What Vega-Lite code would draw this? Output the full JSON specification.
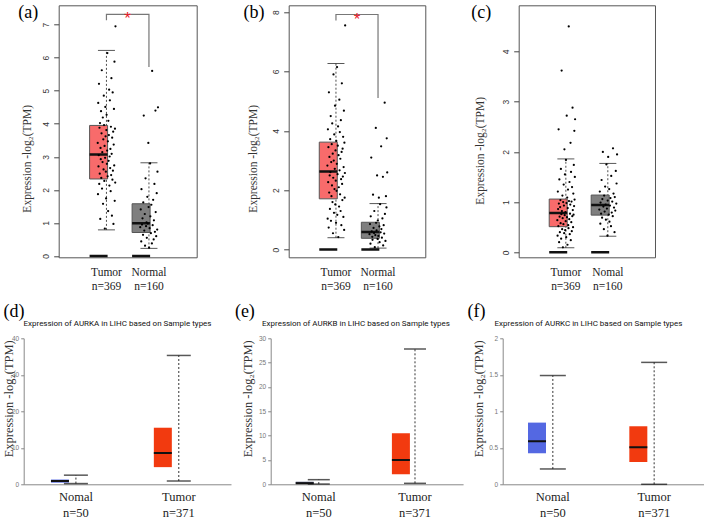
{
"$schema": "https://vega.github.io/schema/vega-lite/v6.json",
"background": "white",
"padding": {"left": 1.7, "top": 2.3, "right": 0, "bottom": 0},
"config": {"view": {"stroke": "#555", "strokeWidth": 1}, "axis": {"grid": false, "labelOverlap": false}, "title": {"fontWeight": "normal"}},
"datasets": {
"bxA": [{"g":"Tumor","lo":0.79,"q1":2.33,"md":3.07,"q3":3.95,"hi":6.22},{"g":"Normal","lo":0.23,"q1":0.71,"md":0.99,"q3":1.58,"hi":2.82}],
"bxB": [{"g":"Tumor","lo":0.40,"q1":1.71,"md":2.63,"q3":3.62,"hi":6.27},{"g":"Normal","lo":0.05,"q1":0.38,"md":0.59,"q3":0.92,"hi":1.55}],
"bxC": [{"g":"Tumor","lo":0.09,"q1":0.51,"md":0.78,"q3":1.06,"hi":1.86},{"g":"Nomal","lo":0.32,"q1":0.74,"md":0.94,"q3":1.14,"hi":1.77}],
"bxD": [{"g":"Nomal","lo":0.2,"q1":0.45,"md":0.9,"q3":1.3,"hi":2.5},{"g":"Tumor","lo":0.9,"q1":4.7,"md":8.6,"q3":15.5,"hi":35.3}],
"bxE": [{"g":"Nomal","lo":0.05,"q1":0.1,"md":0.2,"q3":0.5,"hi":0.95},{"g":"Tumor","lo":0.2,"q1":2.05,"md":5.0,"q3":10.5,"hi":27.8}],
"bxF": [{"g":"Nomal","lo":0.21,"q1":0.425,"md":0.59,"q3":0.845,"hi":1.49},{"g":"Tumor","lo":0.0,"q1":0.305,"md":0.507,"q3":0.795,"hi":1.67}],
"brA": [{"g":"Tumor","y":7.13,"o":1},{"g":"Tumor","y":7.31,"o":2},{"g":"Normal","y":7.31,"o":3},{"g":"Normal","y":5.72,"o":4}],
"brB": [{"g":"Tumor","y":7.72,"o":1},{"g":"Tumor","y":7.92,"o":2},{"g":"Normal","y":7.92,"o":3},{"g":"Normal","y":5.11,"o":4}],
"stA": [{"g":"Tumor","y":7.31,"t":"*"}],
"stB": [{"g":"Tumor","y":7.92,"t":"*"}],
"ptA": [
{"g":"Tumor","i":1,"v":3.42},{"g":"Tumor","i":2,"v":1.87},{"g":"Tumor","i":3,"v":4.63},{"g":"Tumor","i":4,"v":2.71},{"g":"Tumor","i":5,"v":3.05},{"g":"Tumor","i":6,"v":5.21},{"g":"Tumor","i":7,"v":2.18},{"g":"Tumor","i":8,"v":3.88},{"g":"Tumor","i":9,"v":2.49},{"g":"Tumor","i":10,"v":4.02},
{"g":"Tumor","i":11,"v":1.12},{"g":"Tumor","i":12,"v":3.27},{"g":"Tumor","i":13,"v":2.93},{"g":"Tumor","i":14,"v":4.38},{"g":"Tumor","i":15,"v":2.36},{"g":"Tumor","i":16,"v":3.71},{"g":"Tumor","i":17,"v":5.62},{"g":"Tumor","i":18,"v":2.04},{"g":"Tumor","i":19,"v":3.14},{"g":"Tumor","i":20,"v":2.84},
{"g":"Tumor","i":21,"v":4.19},{"g":"Tumor","i":22,"v":1.58},{"g":"Tumor","i":23,"v":3.53},{"g":"Tumor","i":24,"v":2.62},{"g":"Tumor","i":25,"v":4.85},{"g":"Tumor","i":26,"v":3.96},{"g":"Tumor","i":27,"v":2.27},{"g":"Tumor","i":28,"v":3.33},{"g":"Tumor","i":29,"v":0.83},{"g":"Tumor","i":30,"v":2.97},
{"g":"Tumor","i":31,"v":4.51},{"g":"Tumor","i":32,"v":3.62},{"g":"Tumor","i":33,"v":2.55},{"g":"Tumor","i":34,"v":1.74},{"g":"Tumor","i":35,"v":3.81},{"g":"Tumor","i":36,"v":4.27},{"g":"Tumor","i":37,"v":2.79},{"g":"Tumor","i":38,"v":3.19},{"g":"Tumor","i":39,"v":6.14},{"g":"Tumor","i":40,"v":2.41},
{"g":"Tumor","i":41,"v":3.47},{"g":"Tumor","i":42,"v":1.36},{"g":"Tumor","i":43,"v":4.09},{"g":"Tumor","i":44,"v":2.88},{"g":"Tumor","i":45,"v":3.66},{"g":"Tumor","i":46,"v":5.03},{"g":"Tumor","i":47,"v":2.13},{"g":"Tumor","i":48,"v":3.01},{"g":"Tumor","i":49,"v":4.71},{"g":"Tumor","i":50,"v":2.66},
{"g":"Tumor","i":51,"v":3.24},{"g":"Tumor","i":52,"v":1.96},{"g":"Tumor","i":53,"v":3.91},{"g":"Tumor","i":54,"v":2.45},{"g":"Tumor","i":55,"v":5.38},{"g":"Tumor","i":56,"v":3.09},{"g":"Tumor","i":57,"v":1.22},{"g":"Tumor","i":58,"v":3.58},{"g":"Tumor","i":59,"v":2.31},{"g":"Tumor","i":60,"v":4.95},
{"g":"Tumor","i":61,"v":2.58},{"g":"Tumor","i":62,"v":3.76},{"g":"Tumor","i":63,"v":0.97},{"g":"Tumor","i":64,"v":3.37},{"g":"Tumor","i":65,"v":4.45},{"g":"Tumor","i":66,"v":2.74},{"g":"Tumor","i":67,"v":5.88},{"g":"Tumor","i":68,"v":1.67},{"g":"Tumor","i":69,"v":3.85},{"g":"Tumor","i":70,"v":2.22},
{"g":"Tumor","i":71,"v":6.95},
{"g":"Normal","i":1,"v":0.87},{"g":"Normal","i":3,"v":1.41},{"g":"Normal","i":5,"v":0.44},{"g":"Normal","i":6,"v":2.02},{"g":"Normal","i":8,"v":0.95},{"g":"Normal","i":10,"v":1.14},{"g":"Normal","i":12,"v":0.64},{"g":"Normal","i":13,"v":1.62},{"g":"Normal","i":15,"v":4.25},{"g":"Normal","i":17,"v":0.77},
{"g":"Normal","i":19,"v":1.27},{"g":"Normal","i":20,"v":0.31},{"g":"Normal","i":22,"v":2.35},{"g":"Normal","i":24,"v":0.9},{"g":"Normal","i":26,"v":1.02},{"g":"Normal","i":27,"v":0.55},{"g":"Normal","i":29,"v":1.79},{"g":"Normal","i":31,"v":0.98},{"g":"Normal","i":33,"v":3.42},{"g":"Normal","i":34,"v":1.48},
{"g":"Normal","i":36,"v":0.25},{"g":"Normal","i":38,"v":0.84},{"g":"Normal","i":40,"v":2.8},{"g":"Normal","i":41,"v":1.2},{"g":"Normal","i":43,"v":0.69},{"g":"Normal","i":45,"v":1.55},{"g":"Normal","i":47,"v":0.38},{"g":"Normal","i":48,"v":5.6},{"g":"Normal","i":50,"v":0.93},{"g":"Normal","i":52,"v":1.7},
{"g":"Normal","i":54,"v":0.5},{"g":"Normal","i":55,"v":1.08},{"g":"Normal","i":57,"v":2.18},{"g":"Normal","i":59,"v":0.73},{"g":"Normal","i":61,"v":4.4},{"g":"Normal","i":62,"v":1.33},{"g":"Normal","i":64,"v":0.6},{"g":"Normal","i":66,"v":1.9},{"g":"Normal","i":68,"v":0.8},{"g":"Normal","i":69,"v":2.55},{"g":"Normal","i":71,"v":4.5}
],
"ptB": [
{"g":"Tumor","i":1,"v":2.83},{"g":"Tumor","i":2,"v":1.04},{"g":"Tumor","i":3,"v":4.05},{"g":"Tumor","i":4,"v":2.27},{"g":"Tumor","i":5,"v":3.45},{"g":"Tumor","i":6,"v":0.74},{"g":"Tumor","i":7,"v":5.3},{"g":"Tumor","i":8,"v":1.92},{"g":"Tumor","i":9,"v":3.12},{"g":"Tumor","i":10,"v":2.5},
{"g":"Tumor","i":11,"v":1.37},{"g":"Tumor","i":12,"v":3.72},{"g":"Tumor","i":13,"v":2.61},{"g":"Tumor","i":14,"v":4.5},{"g":"Tumor","i":15,"v":0.97},{"g":"Tumor","i":16,"v":2.95},{"g":"Tumor","i":17,"v":1.8},{"g":"Tumor","i":18,"v":3.55},{"g":"Tumor","i":19,"v":2.16},{"g":"Tumor","i":20,"v":4.25},
{"g":"Tumor","i":21,"v":1.6},{"g":"Tumor","i":22,"v":3.23},{"g":"Tumor","i":23,"v":0.55},{"g":"Tumor","i":24,"v":2.42},{"g":"Tumor","i":25,"v":5.9},{"g":"Tumor","i":26,"v":3.0},{"g":"Tumor","i":27,"v":1.24},{"g":"Tumor","i":28,"v":3.88},{"g":"Tumor","i":29,"v":2.04},{"g":"Tumor","i":30,"v":2.72},
{"g":"Tumor","i":31,"v":4.85},{"g":"Tumor","i":32,"v":1.52},{"g":"Tumor","i":33,"v":3.34},{"g":"Tumor","i":34,"v":2.32},{"g":"Tumor","i":35,"v":0.9},{"g":"Tumor","i":36,"v":3.66},{"g":"Tumor","i":37,"v":1.98},{"g":"Tumor","i":38,"v":2.89},{"g":"Tumor","i":39,"v":6.15},{"g":"Tumor","i":40,"v":1.17},
{"g":"Tumor","i":41,"v":2.54},{"g":"Tumor","i":42,"v":3.5},{"g":"Tumor","i":43,"v":4.15},{"g":"Tumor","i":44,"v":0.42},{"g":"Tumor","i":45,"v":3.18},{"g":"Tumor","i":46,"v":2.1},{"g":"Tumor","i":47,"v":1.45},{"g":"Tumor","i":48,"v":5.05},{"g":"Tumor","i":49,"v":2.67},{"g":"Tumor","i":50,"v":3.96},
{"g":"Tumor","i":51,"v":1.86},{"g":"Tumor","i":52,"v":3.06},{"g":"Tumor","i":53,"v":1.3},{"g":"Tumor","i":54,"v":4.36},{"g":"Tumor","i":55,"v":2.37},{"g":"Tumor","i":56,"v":0.82},{"g":"Tumor","i":57,"v":3.29},{"g":"Tumor","i":58,"v":5.6},{"g":"Tumor","i":59,"v":2.21},{"g":"Tumor","i":60,"v":1.67},
{"g":"Tumor","i":61,"v":3.4},{"g":"Tumor","i":62,"v":2.46},{"g":"Tumor","i":63,"v":3.8},{"g":"Tumor","i":64,"v":1.1},{"g":"Tumor","i":65,"v":2.78},{"g":"Tumor","i":66,"v":4.68},{"g":"Tumor","i":67,"v":0.66},{"g":"Tumor","i":68,"v":3.6},{"g":"Tumor","i":69,"v":1.75},{"g":"Tumor","i":70,"v":2.58},
{"g":"Tumor","i":71,"v":7.55},
{"g":"Normal","i":1,"v":0.52},{"g":"Normal","i":3,"v":0.86},{"g":"Normal","i":5,"v":0.2},{"g":"Normal","i":6,"v":1.12},{"g":"Normal","i":8,"v":3.1},{"g":"Normal","i":10,"v":0.61},{"g":"Normal","i":12,"v":0.43},{"g":"Normal","i":13,"v":0.33},{"g":"Normal","i":15,"v":1.85},{"g":"Normal","i":17,"v":0.73},
{"g":"Normal","i":19,"v":0.56},{"g":"Normal","i":20,"v":1.3},{"g":"Normal","i":22,"v":0.08},{"g":"Normal","i":24,"v":0.49},{"g":"Normal","i":26,"v":4.1},{"g":"Normal","i":27,"v":0.9},{"g":"Normal","i":29,"v":0.65},{"g":"Normal","i":31,"v":2.5},{"g":"Normal","i":33,"v":0.36},{"g":"Normal","i":34,"v":0.98},
{"g":"Normal","i":36,"v":0.46},{"g":"Normal","i":38,"v":1.75},{"g":"Normal","i":40,"v":0.78},{"g":"Normal","i":41,"v":0.25},{"g":"Normal","i":43,"v":1.53},{"g":"Normal","i":45,"v":0.58},{"g":"Normal","i":47,"v":3.48},{"g":"Normal","i":48,"v":0.69},{"g":"Normal","i":50,"v":0.4},{"g":"Normal","i":52,"v":1.05},
{"g":"Normal","i":54,"v":2.45},{"g":"Normal","i":55,"v":0.14},{"g":"Normal","i":57,"v":0.82},{"g":"Normal","i":59,"v":0.54},{"g":"Normal","i":61,"v":4.95},{"g":"Normal","i":62,"v":1.2},{"g":"Normal","i":64,"v":0.29},{"g":"Normal","i":66,"v":1.8},{"g":"Normal","i":68,"v":1.42},{"g":"Normal","i":69,"v":3.75},{"g":"Normal","i":71,"v":2.6}
],
"ptC": [
{"g":"Tumor","i":1,"v":0.64},{"g":"Tumor","i":2,"v":0.33},{"g":"Tumor","i":3,"v":1.21},{"g":"Tumor","i":4,"v":0.86},{"g":"Tumor","i":5,"v":0.52},{"g":"Tumor","i":6,"v":2.45},{"g":"Tumor","i":7,"v":0.97},{"g":"Tumor","i":8,"v":0.2},{"g":"Tumor","i":9,"v":1.45},{"g":"Tumor","i":10,"v":0.71},
{"g":"Tumor","i":11,"v":0.4},{"g":"Tumor","i":12,"v":0.9},{"g":"Tumor","i":13,"v":1.04},{"g":"Tumor","i":14,"v":0.58},{"g":"Tumor","i":15,"v":1.66},{"g":"Tumor","i":16,"v":0.27},{"g":"Tumor","i":17,"v":0.76},{"g":"Tumor","i":18,"v":3.62},{"g":"Tumor","i":19,"v":0.82},{"g":"Tumor","i":20,"v":0.46},
{"g":"Tumor","i":21,"v":1.13},{"g":"Tumor","i":22,"v":0.68},{"g":"Tumor","i":23,"v":0.1},{"g":"Tumor","i":24,"v":1.0},{"g":"Tumor","i":25,"v":0.56},{"g":"Tumor","i":26,"v":1.35},{"g":"Tumor","i":27,"v":0.93},{"g":"Tumor","i":28,"v":0.38},{"g":"Tumor","i":29,"v":2.05},{"g":"Tumor","i":30,"v":0.74},
{"g":"Tumor","i":31,"v":1.55},{"g":"Tumor","i":32,"v":0.44},{"g":"Tumor","i":33,"v":0.8},{"g":"Tumor","i":34,"v":0.62},{"g":"Tumor","i":35,"v":1.84},{"g":"Tumor","i":36,"v":0.3},{"g":"Tumor","i":37,"v":0.98},{"g":"Tumor","i":38,"v":2.72},{"g":"Tumor","i":39,"v":0.7},{"g":"Tumor","i":40,"v":1.09},
{"g":"Tumor","i":41,"v":0.15},{"g":"Tumor","i":42,"v":0.88},{"g":"Tumor","i":43,"v":1.25},{"g":"Tumor","i":44,"v":0.54},{"g":"Tumor","i":45,"v":0.48},{"g":"Tumor","i":46,"v":4.5},{"g":"Tumor","i":47,"v":1.02},{"g":"Tumor","i":48,"v":0.66},{"g":"Tumor","i":49,"v":1.4},{"g":"Tumor","i":50,"v":0.36},
{"g":"Tumor","i":51,"v":0.77},{"g":"Tumor","i":52,"v":0.95},{"g":"Tumor","i":53,"v":2.18},{"g":"Tumor","i":54,"v":0.24},{"g":"Tumor","i":55,"v":1.6},{"g":"Tumor","i":56,"v":0.6},{"g":"Tumor","i":57,"v":1.01},{"g":"Tumor","i":58,"v":0.42},{"g":"Tumor","i":59,"v":1.3},{"g":"Tumor","i":60,"v":0.72},
{"g":"Tumor","i":61,"v":2.88},{"g":"Tumor","i":62,"v":0.84},{"g":"Tumor","i":63,"v":0.5},{"g":"Tumor","i":64,"v":1.17},{"g":"Tumor","i":65,"v":0.75},{"g":"Tumor","i":66,"v":1.74},{"g":"Tumor","i":67,"v":0.92},{"g":"Tumor","i":68,"v":2.42},{"g":"Tumor","i":69,"v":1.05},{"g":"Tumor","i":70,"v":1.5},
{"g":"Tumor","i":71,"v":2.65},
{"g":"Nomal","i":1,"v":0.85},{"g":"Nomal","i":3,"v":1.21},{"g":"Nomal","i":5,"v":0.57},{"g":"Nomal","i":6,"v":0.99},{"g":"Nomal","i":8,"v":0.77},{"g":"Nomal","i":10,"v":1.44},{"g":"Nomal","i":12,"v":0.69},{"g":"Nomal","i":13,"v":1.06},{"g":"Nomal","i":15,"v":2.0},{"g":"Nomal","i":17,"v":0.91},
{"g":"Nomal","i":19,"v":0.46},{"g":"Nomal","i":20,"v":1.13},{"g":"Nomal","i":22,"v":0.81},{"g":"Nomal","i":24,"v":1.31},{"g":"Nomal","i":26,"v":0.95},{"g":"Nomal","i":27,"v":0.65},{"g":"Nomal","i":29,"v":1.75},{"g":"Nomal","i":31,"v":0.87},{"g":"Nomal","i":33,"v":0.33},{"g":"Nomal","i":34,"v":1.03},
{"g":"Nomal","i":36,"v":1.9},{"g":"Nomal","i":38,"v":0.75},{"g":"Nomal","i":40,"v":1.26},{"g":"Nomal","i":41,"v":0.61},{"g":"Nomal","i":43,"v":0.93},{"g":"Nomal","i":45,"v":1.08},{"g":"Nomal","i":47,"v":0.52},{"g":"Nomal","i":48,"v":1.52},{"g":"Nomal","i":50,"v":0.79},{"g":"Nomal","i":52,"v":1.01},
{"g":"Nomal","i":54,"v":0.72},{"g":"Nomal","i":55,"v":2.07},{"g":"Nomal","i":57,"v":1.17},{"g":"Nomal","i":59,"v":0.89},{"g":"Nomal","i":61,"v":0.4},{"g":"Nomal","i":62,"v":1.1},{"g":"Nomal","i":64,"v":0.83},{"g":"Nomal","i":66,"v":1.62},{"g":"Nomal","i":68,"v":0.97},{"g":"Nomal","i":69,"v":1.37},{"g":"Nomal","i":71,"v":1.95}
]
},
"spacing": 9,
"resolve": {"scale": {"color": "independent"}},
"vconcat": [
{"hconcat": [
 {"width": 34.3, "height": 252, "data": {"values": []}, "mark": "point", "view": {"stroke": null}},
 {"width": 138, "height": 252,
  "resolve": {"axis": {"x": "independent", "y": "independent"}},
  "layer": [
   {"data": {"name": "bxA"}, "mark": {"type": "rule", "color": "#222", "strokeWidth": 0.8, "strokeDash": [2, 2]},
    "encoding": {
     "x": {"field": "g", "type": "nominal", "scale": {"type": "band", "domain": ["Tumor", "Normal"], "paddingInner": 0.207, "paddingOuter": 0.727},
       "axis": {"title": null, "domain": false, "ticks": false, "labelAngle": 0, "labelFont": "Liberation Serif", "labelFontSize": 11.5, "labelColor": "#222", "labelPadding": 9, "labelLineHeight": 14.3, "labelExpr": "datum.value == 'Tumor' ? ['Tumor', 'n=369'] : ['Normal', 'n=160']"}},
     "y": {"field": "lo", "type": "quantitative", "scale": {"domain": [-0.04, 7.585], "nice": false, "zero": false},
       "axis": {"title": "Expression -log₂(TPM)", "values": [0, 1, 2, 3, 4, 5, 6, 7], "format": "~r", "labelOverlap": false, "domain": false, "tickSize": 5, "tickColor": "#444", "labelAngle": -90, "labelAlign": "center", "labelBaseline": "bottom", "labelFont": "Liberation Sans", "labelFontSize": 8.5, "labelColor": "#333", "labelPadding": 3, "titleFont": "Liberation Serif", "titleFontSize": 11.5, "titleFontWeight": "normal", "titleColor": "#333", "titleX": -26, "titleY": 153}},
     "y2": {"field": "hi"}}},
   {"data": {"name": "bxA"}, "mark": {"type": "bar", "stroke": "#555", "strokeWidth": 1},
    "encoding": {"x": {"field": "g", "type": "nominal", "axis": {"orient": "top", "title": "(a)", "labels": false, "ticks": false, "domain": false, "titleFont": "Liberation Serif", "titleFontSize": 18, "titleFontWeight": "normal", "titleColor": "#000", "titleX": -41, "titleY": 12, "titleAlign": "left", "titleBaseline": "alphabetic"}},
     "y": {"field": "q1", "type": "quantitative", "axis": null}, "y2": {"field": "q3"},
     "color": {"field": "g", "type": "nominal", "scale": {"domain": ["Tumor", "Normal"], "range": ["#F86B6B", "#7F7F7F"]}, "legend": null}}},
   {"data": {"name": "bxA"}, "mark": {"type": "bar", "fill": "transparent", "stroke": "#111", "strokeWidth": 2.5},
    "encoding": {"x": {"field": "g", "type": "nominal", "axis": null}, "y": {"field": "md", "type": "quantitative", "axis": null}, "y2": {"field": "md"}}},
   {"data": {"name": "bxA"}, "mark": {"type": "tick", "color": "#111", "thickness": 1, "size": 17},
    "encoding": {"x": {"field": "g", "type": "nominal", "axis": null}, "y": {"field": "hi", "type": "quantitative", "axis": null}}},
   {"data": {"name": "bxA"}, "mark": {"type": "tick", "color": "#111", "thickness": 1, "size": 17},
    "encoding": {"x": {"field": "g", "type": "nominal", "axis": null}, "y": {"field": "lo", "type": "quantitative", "axis": null}}},
   {"data": {"name": "bxA"}, "mark": {"type": "bar", "fill": "transparent", "stroke": "#111", "strokeWidth": 2.5},
    "encoding": {"x": {"field": "g", "type": "nominal", "axis": null}, "y": {"datum": 0, "axis": null}, "y2": {"datum": 0}}},
   {"data": {"name": "ptA"}, "mark": {"type": "circle", "color": "#000", "size": 5, "opacity": 1},
    "encoding": {"x": {"field": "g", "type": "nominal", "axis": null}, "xOffset": {"field": "i", "type": "ordinal", "scale": {"type": "point", "range": [8, 26]}}, "y": {"field": "v", "type": "quantitative", "axis": null}}},
   {"data": {"name": "brA"}, "mark": {"type": "line", "color": "#777", "strokeWidth": 1.2},
    "encoding": {"x": {"field": "g", "type": "nominal", "axis": null}, "y": {"field": "y", "type": "quantitative", "axis": null}, "order": {"field": "o"}}},
   {"data": {"name": "stA"}, "mark": {"type": "text", "color": "#E8202A", "fontSize": 17, "font": "Liberation Sans", "baseline": "middle", "dy": 5},
    "encoding": {"x": {"field": "g", "type": "nominal", "bandPosition": 1.13, "axis": null}, "y": {"field": "y", "type": "quantitative", "axis": null}, "text": {"field": "t"}}}
  ]},
 {"width": 91.7, "height": 252, "data": {"values": []}, "mark": "point", "view": {"stroke": null}},
 {"width": 136.6, "height": 252,
  "resolve": {"axis": {"x": "independent", "y": "independent"}},
  "layer": [
   {"data": {"name": "bxB"}, "mark": {"type": "rule", "color": "#222", "strokeWidth": 0.8, "strokeDash": [2, 2]},
    "encoding": {
     "x": {"field": "g", "type": "nominal", "scale": {"type": "band", "domain": ["Tumor", "Normal"], "paddingInner": 0.207, "paddingOuter": 0.727},
       "axis": {"title": null, "domain": false, "ticks": false, "labelAngle": 0, "labelFont": "Liberation Serif", "labelFontSize": 11.5, "labelColor": "#222", "labelPadding": 9, "labelLineHeight": 14.3, "labelExpr": "datum.value == 'Tumor' ? ['Tumor', 'n=369'] : ['Normal', 'n=160']"}},
     "y": {"field": "lo", "type": "quantitative", "scale": {"domain": [-0.26, 8.23], "nice": false, "zero": false},
       "axis": {"title": "Expression -log₂(TPM)", "values": [0, 2, 4, 6, 8], "format": "~r", "labelOverlap": false, "domain": false, "tickSize": 5, "tickColor": "#444", "labelAngle": -90, "labelAlign": "center", "labelBaseline": "bottom", "labelFont": "Liberation Sans", "labelFontSize": 8.5, "labelColor": "#333", "labelPadding": 3, "titleFont": "Liberation Serif", "titleFontSize": 11.5, "titleFontWeight": "normal", "titleColor": "#333", "titleX": -30, "titleY": 153}},
     "y2": {"field": "hi"}}},
   {"data": {"name": "bxB"}, "mark": {"type": "bar", "stroke": "#555", "strokeWidth": 1},
    "encoding": {"x": {"field": "g", "type": "nominal", "axis": {"orient": "top", "title": "(b)", "labels": false, "ticks": false, "domain": false, "titleFont": "Liberation Serif", "titleFontSize": 18, "titleFontWeight": "normal", "titleColor": "#000", "titleX": -45.7, "titleY": 12, "titleAlign": "left", "titleBaseline": "alphabetic"}},
     "y": {"field": "q1", "type": "quantitative", "axis": null}, "y2": {"field": "q3"},
     "color": {"field": "g", "type": "nominal", "scale": {"domain": ["Tumor", "Normal"], "range": ["#F86B6B", "#7F7F7F"]}, "legend": null}}},
   {"data": {"name": "bxB"}, "mark": {"type": "bar", "fill": "transparent", "stroke": "#111", "strokeWidth": 2.5},
    "encoding": {"x": {"field": "g", "type": "nominal", "axis": null}, "y": {"field": "md", "type": "quantitative", "axis": null}, "y2": {"field": "md"}}},
   {"data": {"name": "bxB"}, "mark": {"type": "tick", "color": "#111", "thickness": 1, "size": 17},
    "encoding": {"x": {"field": "g", "type": "nominal", "axis": null}, "y": {"field": "hi", "type": "quantitative", "axis": null}}},
   {"data": {"name": "bxB"}, "mark": {"type": "tick", "color": "#111", "thickness": 1, "size": 17},
    "encoding": {"x": {"field": "g", "type": "nominal", "axis": null}, "y": {"field": "lo", "type": "quantitative", "axis": null}}},
   {"data": {"name": "bxB"}, "mark": {"type": "bar", "fill": "transparent", "stroke": "#111", "strokeWidth": 2.5},
    "encoding": {"x": {"field": "g", "type": "nominal", "axis": null}, "y": {"datum": 0, "axis": null}, "y2": {"datum": 0}}},
   {"data": {"name": "ptB"}, "mark": {"type": "circle", "color": "#000", "size": 5, "opacity": 1},
    "encoding": {"x": {"field": "g", "type": "nominal", "axis": null}, "xOffset": {"field": "i", "type": "ordinal", "scale": {"type": "point", "range": [8, 26]}}, "y": {"field": "v", "type": "quantitative", "axis": null}}},
   {"data": {"name": "brB"}, "mark": {"type": "line", "color": "#777", "strokeWidth": 1.2},
    "encoding": {"x": {"field": "g", "type": "nominal", "axis": null}, "y": {"field": "y", "type": "quantitative", "axis": null}, "order": {"field": "o"}}},
   {"data": {"name": "stB"}, "mark": {"type": "text", "color": "#E8202A", "fontSize": 17, "font": "Liberation Sans", "baseline": "middle", "dy": 5},
    "encoding": {"x": {"field": "g", "type": "nominal", "bandPosition": 1.13, "axis": null}, "y": {"field": "y", "type": "quantitative", "axis": null}, "text": {"field": "t"}}}
  ]},
 {"width": 92.7, "height": 252, "data": {"values": []}, "mark": "point", "view": {"stroke": null}},
 {"width": 136.3, "height": 252,
  "resolve": {"axis": {"x": "independent", "y": "independent"}},
  "layer": [
   {"data": {"name": "bxC"}, "mark": {"type": "rule", "color": "#222", "strokeWidth": 0.8, "strokeDash": [2, 2]},
    "encoding": {
     "x": {"field": "g", "type": "nominal", "scale": {"type": "band", "domain": ["Tumor", "Nomal"], "paddingInner": 0.207, "paddingOuter": 0.727},
       "axis": {"title": null, "domain": false, "ticks": false, "labelAngle": 0, "labelFont": "Liberation Serif", "labelFontSize": 11.5, "labelColor": "#222", "labelPadding": 9, "labelLineHeight": 14.3, "labelExpr": "datum.value == 'Tumor' ? ['Tumor', 'n=369'] : ['Nomal', 'n=160']"}},
     "y": {"field": "lo", "type": "quantitative", "scale": {"domain": [-0.1, 4.92], "nice": false, "zero": false},
       "axis": {"title": "Expression -log₂(TPM)", "values": [0, 1, 2, 3, 4], "format": "~r", "labelOverlap": false, "domain": false, "tickSize": 5, "tickColor": "#444", "labelAngle": -90, "labelAlign": "center", "labelBaseline": "bottom", "labelFont": "Liberation Sans", "labelFontSize": 8.5, "labelColor": "#333", "labelPadding": 3, "titleFont": "Liberation Serif", "titleFontSize": 11.5, "titleFontWeight": "normal", "titleColor": "#333", "titleX": -33, "titleY": 145}},
     "y2": {"field": "hi"}}},
   {"data": {"name": "bxC"}, "mark": {"type": "bar", "stroke": "#555", "strokeWidth": 1},
    "encoding": {"x": {"field": "g", "type": "nominal", "axis": {"orient": "top", "title": "(c)", "labels": false, "ticks": false, "domain": false, "titleFont": "Liberation Serif", "titleFontSize": 18, "titleFontWeight": "normal", "titleColor": "#000", "titleX": -48, "titleY": 12, "titleAlign": "left", "titleBaseline": "alphabetic"}},
     "y": {"field": "q1", "type": "quantitative", "axis": null}, "y2": {"field": "q3"},
     "color": {"field": "g", "type": "nominal", "scale": {"domain": ["Tumor", "Nomal"], "range": ["#F86B6B", "#7F7F7F"]}, "legend": null}}},
   {"data": {"name": "bxC"}, "mark": {"type": "bar", "fill": "transparent", "stroke": "#111", "strokeWidth": 2.5},
    "encoding": {"x": {"field": "g", "type": "nominal", "axis": null}, "y": {"field": "md", "type": "quantitative", "axis": null}, "y2": {"field": "md"}}},
   {"data": {"name": "bxC"}, "mark": {"type": "tick", "color": "#111", "thickness": 1, "size": 17},
    "encoding": {"x": {"field": "g", "type": "nominal", "axis": null}, "y": {"field": "hi", "type": "quantitative", "axis": null}}},
   {"data": {"name": "bxC"}, "mark": {"type": "tick", "color": "#111", "thickness": 1, "size": 17},
    "encoding": {"x": {"field": "g", "type": "nominal", "axis": null}, "y": {"field": "lo", "type": "quantitative", "axis": null}}},
   {"data": {"name": "bxC"}, "mark": {"type": "bar", "fill": "transparent", "stroke": "#111", "strokeWidth": 2.5},
    "encoding": {"x": {"field": "g", "type": "nominal", "axis": null}, "y": {"datum": 0, "axis": null}, "y2": {"datum": 0}}},
   {"data": {"name": "ptC"}, "mark": {"type": "circle", "color": "#000", "size": 5, "opacity": 1},
    "encoding": {"x": {"field": "g", "type": "nominal", "axis": null}, "xOffset": {"field": "i", "type": "ordinal", "scale": {"type": "point", "range": [8, 26]}}, "y": {"field": "v", "type": "quantitative", "axis": null}}}
  ]}
 ], "spacing": 0, "bounds": "flush", "resolve": {"scale": {"color": "independent"}}},
{"hconcat": [
 {"width": 207.3, "height": 146, "view": {"stroke": null}, "data": {"name": "bxD"},
  "resolve": {"axis": {"x": "independent", "y": "independent"}},
  "layer": [
   {"mark": {"type": "rule", "color": "#333", "strokeWidth": 1, "strokeDash": [2, 2]},
    "encoding": {
     "x": {"field": "g", "type": "nominal", "scale": {"type": "band", "domain": ["Nomal", "Tumor"], "paddingInner": 0.515, "paddingOuter": 0.265},
       "axis": {"title": null, "domain": true, "domainColor": "#888", "ticks": false, "labelAngle": 0, "labelFont": "Liberation Serif", "labelFontSize": 12.5, "labelColor": "#222", "labelPadding": 6, "labelLineHeight": 16.5, "labelExpr": "datum.value == 'Tumor' ? ['Tumor', 'n=371'] : ['Nomal', 'n=50']"}},
     "y": {"field": "lo", "type": "quantitative", "scale": {"domain": [0, 40], "nice": false},
       "axis": {"title": "Expression -log₂(TPM)", "values": [0, 10, 20, 30, 40], "format": "~r", "domain": true, "domainColor": "#888", "tickColor": "#888", "tickSize": 3, "labelFont": "Liberation Sans", "labelFontSize": 6.5, "labelColor": "#777", "labelPadding": 2, "titleFont": "Liberation Serif", "titleFontSize": 12.5, "titleFontWeight": "normal", "titleColor": "#333", "titleX": -8, "titleY": 60}},
     "y2": {"field": "hi"}}},
   {"mark": {"type": "bar"},
    "encoding": {"x": {"field": "g", "type": "nominal", "axis": {"orient": "top", "title": "Expression of AURKA in LIHC based on Sample types", "labels": false, "ticks": false, "domain": false, "titleFont": "Roboto", "titleFontSize": 8, "titleFontWeight": "normal", "titleColor": "#111", "titleX": 93.3, "titleY": -12.5, "titleAlign": "center", "titleBaseline": "alphabetic"}},
     "y": {"field": "q1", "type": "quantitative", "axis": {"orient": "right", "title": "(d)", "labels": false, "ticks": false, "domain": false, "titleFont": "Liberation Serif", "titleFontSize": 18, "titleFontWeight": "normal", "titleColor": "#000", "titleAngle": 0, "titleX": -228, "titleY": -22, "titleAlign": "left", "titleBaseline": "alphabetic"}},
     "y2": {"field": "q3"},
     "color": {"field": "g", "type": "nominal", "scale": {"domain": ["Nomal", "Tumor"], "range": ["#5468E2", "#F23A0F"]}, "legend": null}}},
   {"mark": {"type": "bar", "fill": "transparent", "stroke": "#111", "strokeWidth": 2},
    "encoding": {"x": {"field": "g", "type": "nominal", "axis": null}, "y": {"field": "md", "type": "quantitative", "axis": null}, "y2": {"field": "md"}}},
   {"mark": {"type": "tick", "color": "#111", "thickness": 1.5, "size": 24},
    "encoding": {"x": {"field": "g", "type": "nominal", "axis": null}, "y": {"field": "hi", "type": "quantitative", "axis": null}}},
   {"mark": {"type": "tick", "color": "#111", "thickness": 1.5, "size": 24},
    "encoding": {"x": {"field": "g", "type": "nominal", "axis": null}, "y": {"field": "lo", "type": "quantitative", "axis": null}}}
  ]},
 {"width": 39, "height": 10, "data": {"values": []}, "mark": "point", "view": {"stroke": null}},
 {"width": 192.4, "height": 146, "view": {"stroke": null}, "data": {"name": "bxE"},
  "resolve": {"axis": {"x": "independent", "y": "independent"}},
  "layer": [
   {"mark": {"type": "rule", "color": "#333", "strokeWidth": 1, "strokeDash": [2, 2]},
    "encoding": {
     "x": {"field": "g", "type": "nominal", "scale": {"type": "band", "domain": ["Nomal", "Tumor"], "paddingInner": 0.52, "paddingOuter": 0.26},
       "axis": {"title": null, "domain": true, "domainColor": "#888", "ticks": false, "labelAngle": 0, "labelFont": "Liberation Serif", "labelFontSize": 12.5, "labelColor": "#222", "labelPadding": 6, "labelLineHeight": 16.5, "labelExpr": "datum.value == 'Tumor' ? ['Tumor', 'n=371'] : ['Nomal', 'n=50']"}},
     "y": {"field": "lo", "type": "quantitative", "scale": {"domain": [0, 30], "nice": false},
       "axis": {"title": "Expression -log₂(TPM)", "values": [0, 5, 10, 15, 20, 25, 30], "format": "~r", "domain": true, "domainColor": "#888", "tickColor": "#888", "tickSize": 3, "labelFont": "Liberation Sans", "labelFontSize": 6.5, "labelColor": "#777", "labelPadding": 2, "titleFont": "Liberation Serif", "titleFontSize": 12.5, "titleFontWeight": "normal", "titleColor": "#333", "titleX": -16.3, "titleY": 60}},
     "y2": {"field": "hi"}}},
   {"mark": {"type": "bar"},
    "encoding": {"x": {"field": "g", "type": "nominal", "axis": {"orient": "top", "title": "Expression of AURKB in LIHC based on Sample types", "labels": false, "ticks": false, "domain": false, "titleFont": "Roboto", "titleFontSize": 8, "titleFontWeight": "normal", "titleColor": "#111", "titleX": 84.7, "titleY": -12.5, "titleAlign": "center", "titleBaseline": "alphabetic"}},
     "y": {"field": "q1", "type": "quantitative", "axis": {"orient": "right", "title": "(e)", "labels": false, "ticks": false, "domain": false, "titleFont": "Liberation Serif", "titleFontSize": 18, "titleFontWeight": "normal", "titleColor": "#000", "titleAngle": 0, "titleX": -228.7, "titleY": -22, "titleAlign": "left", "titleBaseline": "alphabetic"}},
     "y2": {"field": "q3"},
     "color": {"field": "g", "type": "nominal", "scale": {"domain": ["Nomal", "Tumor"], "range": ["#4a4f70", "#F23A0F"]}, "legend": null}}},
   {"mark": {"type": "bar", "fill": "transparent", "stroke": "#111", "strokeWidth": 2},
    "encoding": {"x": {"field": "g", "type": "nominal", "axis": null}, "y": {"field": "md", "type": "quantitative", "axis": null}, "y2": {"field": "md"}}},
   {"mark": {"type": "tick", "color": "#111", "thickness": 1.5, "size": 22},
    "encoding": {"x": {"field": "g", "type": "nominal", "axis": null}, "y": {"field": "hi", "type": "quantitative", "axis": null}}},
   {"mark": {"type": "tick", "color": "#111", "thickness": 1.5, "size": 22},
    "encoding": {"x": {"field": "g", "type": "nominal", "axis": null}, "y": {"field": "lo", "type": "quantitative", "axis": null}}}
  ]},
 {"width": 39, "height": 10, "data": {"values": []}, "mark": "point", "view": {"stroke": null}},
 {"width": 201.6, "height": 146, "view": {"stroke": null}, "data": {"name": "bxF"},
  "resolve": {"axis": {"x": "independent", "y": "independent"}},
  "layer": [
   {"mark": {"type": "rule", "color": "#333", "strokeWidth": 1, "strokeDash": [2, 2]},
    "encoding": {
     "x": {"field": "g", "type": "nominal", "scale": {"type": "band", "domain": ["Nomal", "Tumor"], "paddingInner": 0.51, "paddingOuter": 0.25},
       "axis": {"title": null, "domain": true, "domainColor": "#888", "ticks": false, "labelAngle": 0, "labelFont": "Liberation Serif", "labelFontSize": 12.5, "labelColor": "#222", "labelPadding": 6, "labelLineHeight": 16.5, "labelExpr": "datum.value == 'Tumor' ? ['Tumor', 'n=371'] : ['Nomal', 'n=50']"}},
     "y": {"field": "lo", "type": "quantitative", "scale": {"domain": [0, 2], "nice": false},
       "axis": {"title": "Expression -log₂(TPM)", "values": [0, 0.5, 1, 1.5, 2], "format": "~r", "domain": true, "domainColor": "#888", "tickColor": "#888", "tickSize": 3, "labelFont": "Liberation Sans", "labelFontSize": 6.5, "labelColor": "#777", "labelPadding": 2, "titleFont": "Liberation Serif", "titleFontSize": 12.5, "titleFontWeight": "normal", "titleColor": "#333", "titleX": -16.7, "titleY": 60}},
     "y2": {"field": "hi"}}},
   {"mark": {"type": "bar"},
    "encoding": {"x": {"field": "g", "type": "nominal", "axis": {"orient": "top", "title": "Expression of AURKC in LIHC based on Sample types", "labels": false, "ticks": false, "domain": false, "titleFont": "Roboto", "titleFontSize": 8, "titleFontWeight": "normal", "titleColor": "#111", "titleX": 85.3, "titleY": -12.5, "titleAlign": "center", "titleBaseline": "alphabetic"}},
     "y": {"field": "q1", "type": "quantitative", "axis": {"orient": "right", "title": "(f)", "labels": false, "ticks": false, "domain": false, "titleFont": "Liberation Serif", "titleFontSize": 18, "titleFontWeight": "normal", "titleColor": "#000", "titleAngle": 0, "titleX": -237.3, "titleY": -22, "titleAlign": "left", "titleBaseline": "alphabetic"}},
     "y2": {"field": "q3"},
     "color": {"field": "g", "type": "nominal", "scale": {"domain": ["Nomal", "Tumor"], "range": ["#5468E2", "#F23A0F"]}, "legend": null}}},
   {"mark": {"type": "bar", "fill": "transparent", "stroke": "#111", "strokeWidth": 2},
    "encoding": {"x": {"field": "g", "type": "nominal", "axis": null}, "y": {"field": "md", "type": "quantitative", "axis": null}, "y2": {"field": "md"}}},
   {"mark": {"type": "tick", "color": "#111", "thickness": 1.5, "size": 26},
    "encoding": {"x": {"field": "g", "type": "nominal", "axis": null}, "y": {"field": "hi", "type": "quantitative", "axis": null}}},
   {"mark": {"type": "tick", "color": "#111", "thickness": 1.5, "size": 26},
    "encoding": {"x": {"field": "g", "type": "nominal", "axis": null}, "y": {"field": "lo", "type": "quantitative", "axis": null}}}
  ]}
 ], "spacing": 0, "bounds": "flush", "resolve": {"scale": {"color": "independent"}}}
]
}
